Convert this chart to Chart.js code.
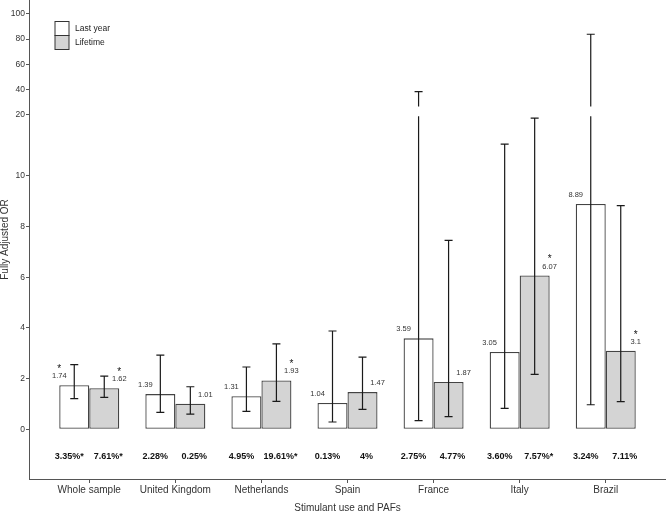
<!DOCTYPE html>
<html>
<head>
<meta charset="utf-8">
<script src="https://cdn.jsdelivr.net/npm/chart.js@4.4.1/dist/chart.umd.min.js"></script>
<style>
  html, body { margin: 0; padding: 0; background: #fff; }
  #wrap { width: 666px; height: 513px; }
</style>
</head>
<body>
<div id="wrap"><canvas id="chart" width="666" height="513"></canvas></div>
<script>
// data
const categories = ["Whole sample", "United Kingdom", "Netherlands", "Spain", "France", "Italy", "Brazil"];
const lastYear = [1.74, 1.39, 1.31, 1.04, 3.59, 3.05, 8.89];
const lifetime = [1.62, 1.01, 1.93, 1.47, 1.87, 6.07, 3.1];
const lastYearLow = [1.21, 0.67, 0.71, 0.29, 0.34, 0.83, 0.97];
const lastYearHigh = [2.55, 2.93, 2.46, 3.88, 38.5, 15.2, 83.9];
const lifetimeLow = [1.26, 0.60, 1.10, 0.79, 0.50, 2.17, 1.09];
const lifetimeHigh = [2.10, 1.68, 3.37, 2.85, 7.46, 19.46, 8.83];
const lastYearStar = [true, false, false, false, false, false, false];
const lifetimeStar = [true, false, true, false, false, true, true];
const lastYearPaf = ["3.35%*", "2.28%", "4.95%", "0.13%", "2.75%", "3.60%", "3.24%"];
const lifetimePaf = ["7.61%*", "0.25%", "19.61%*", "4%", "4.77%", "7.57%*", "7.11%"];
const yTicks = [0, 2, 4, 6, 8, 10, 20, 40, 60, 80, 100];

// broken axis: 0-10 stretched, 10-20 squeezed, 20-100 squeezed more
const knots = [[0, 0], [10, 253.3], [20, 314.3], [100, 415.3]];
const axisGap = [19.8, 26.7];

function interp(v, from, to) {
  let i = 0;
  while (i < knots.length - 2 && v > knots[i + 1][from]) i++;
  const a = knots[i], b = knots[i + 1];
  return a[to] + (v - a[from]) * (b[to] - a[to]) / (b[from] - a[from]);
}
const fwd = (v) => interp(v, 0, 1);
const inv = (u) => interp(u, 1, 0);

class BrokenScale extends Chart.LinearScale {
  buildTicks() {
    return yTicks.map((v) => ({ value: v }));
  }
  getPixelForValue(v) {
    const a = fwd(this.min), b = fwd(this.max);
    return this.getPixelForDecimal((fwd(v) - a) / (b - a));
  }
  getValueForPixel(p) {
    const a = fwd(this.min), b = fwd(this.max);
    return inv(a + this.getDecimalForPixel(p) * (b - a));
  }
}
BrokenScale.id = "broken";
BrokenScale.defaults = Chart.LinearScale.defaults;
Chart.register(BrokenScale);

Chart.defaults.font.family = "'Liberation Sans', Arial, sans-serif";
Chart.defaults.color = "#333";

const lows = [lastYearLow, lifetimeLow];
const highs = [lastYearHigh, lifetimeHigh];
const stars = [lastYearStar, lifetimeStar];
const pafs = [lastYearPaf, lifetimePaf];

// error bars, value labels, stars, PAF row and legend
const overlay = {
  id: "overlay",
  afterDatasetsDraw(chart) {
    const { ctx, scales: { x, y } } = chart;
    ctx.save();
    chart.data.datasets.forEach((ds, di) => {
      const meta = chart.getDatasetMeta(di);
      meta.data.forEach((bar, i) => {
        const lo = y.getPixelForValue(lows[di][i]);
        const hi = y.getPixelForValue(highs[di][i]);
        ctx.strokeStyle = "#1a1a1a";
        ctx.lineWidth = 1.2;
        ctx.beginPath();
        if (highs[di][i] > axisGap[0]) {
          ctx.moveTo(bar.x, lo);
          ctx.lineTo(bar.x, y.getPixelForValue(axisGap[0]));
          ctx.moveTo(bar.x, y.getPixelForValue(axisGap[1]));
          ctx.lineTo(bar.x, hi);
        } else {
          ctx.moveTo(bar.x, lo);
          ctx.lineTo(bar.x, hi);
        }
        ctx.moveTo(bar.x - 4, lo);
        ctx.lineTo(bar.x + 4, lo);
        ctx.moveTo(bar.x - 4, hi);
        ctx.lineTo(bar.x + 4, hi);
        ctx.stroke();

        // value label at the outer corner of the bar
        const lx = di === 0 ? bar.x - bar.width / 2 : bar.x + bar.width / 2;
        const ly = bar.y - 9;
        ctx.fillStyle = "#333";
        ctx.textAlign = "center";
        ctx.textBaseline = "middle";
        ctx.font = "7.5px 'Liberation Sans', Arial, sans-serif";
        ctx.fillText(String(ds.data[i].y), lx, ly);
        if (stars[di][i]) {
          ctx.font = "10px 'Liberation Sans', Arial, sans-serif";
          ctx.fillStyle = "#111";
          ctx.fillText("*", lx, ly - 7);
        }

        // PAF row
        ctx.font = "bold 9px 'Liberation Sans', Arial, sans-serif";
        ctx.fillStyle = "#111";
        const px = x.getPixelForValue(i) + (di === 0 ? -20 : 19);
        ctx.fillText(pafs[di][i], px, y.getPixelForValue(0) + 27);
      });
    });

    // legend
    const left = chart.chartArea.left;
    chart.data.datasets.forEach((ds, di) => {
      const top = 21.5 + di * 14;
      ctx.fillStyle = ds.backgroundColor;
      ctx.fillRect(left + 26, top, 14, 14);
      ctx.strokeStyle = "#333";
      ctx.lineWidth = 1;
      ctx.strokeRect(left + 26, top, 14, 14);
      ctx.fillStyle = "#222";
      ctx.textAlign = "left";
      ctx.textBaseline = "middle";
      ctx.font = "8.5px 'Liberation Sans', Arial, sans-serif";
      ctx.fillText(ds.label, left + 46, top + 7);
    });
    ctx.restore();
  }
};

const toPoints = (arr) => arr.map((v, i) => ({ x: i, y: v }));

new Chart(document.getElementById("chart"), {
  type: "bar",
  data: {
    datasets: [
      {
        label: "Last year",
        data: toPoints(lastYear),
        backgroundColor: "#ffffff",
        borderColor: "#444",
        borderWidth: 1.3,
        borderSkipped: false
      },
      {
        label: "Lifetime",
        data: toPoints(lifetime),
        backgroundColor: "#d4d4d4",
        borderColor: "#444",
        borderWidth: 1.3,
        borderSkipped: false
      }
    ]
  },
  options: {
    responsive: false,
    animation: false,
    layout: { padding: 0 },
    datasets: { bar: { categoryPercentage: 0.697, barPercentage: 1 } },
    plugins: {
      legend: { display: false },
      tooltip: { enabled: false }
    },
    scales: {
      x: {
        type: "linear",
        min: -0.7,
        max: 6.7,
        offset: false,
        afterBuildTicks: (s) => { s.ticks = categories.map((c, i) => ({ value: i })); },
        afterFit: (s) => { s.height = 34; s.paddingLeft = 0; s.paddingRight = 0; },
        grid: { offset: false, drawOnChartArea: false, tickLength: 4, color: "#555" },
        border: { display: true, color: "#555", width: 1 },
        ticks: {
          autoSkip: false,
          maxRotation: 0,
          padding: 1,
          color: "#333",
          font: { size: 10 },
          callback: (v) => categories[v]
        },
        title: {
          display: true,
          text: "Stimulant use and PAFs",
          color: "#333",
          font: { size: 10, lineHeight: 1 },
          padding: { top: 0, bottom: 0 }
        }
      },
      y: {
        type: "broken",
        min: -1.96,
        max: 111,
        afterFit: (s) => { s.width = 29; s.paddingTop = 0; s.paddingBottom = 0; },
        grid: { drawOnChartArea: false, tickLength: 3, color: "#555" },
        border: { display: true, color: "#555", width: 1 },
        ticks: {
          autoSkip: false,
          padding: 1,
          color: "#333",
          font: { size: 8.5 },
          callback: (v) => String(v)
        },
        title: {
          display: true,
          text: "Fully Adjusted OR",
          color: "#333",
          font: { size: 10, lineHeight: 1 },
          padding: { top: 0, bottom: 0 }
        }
      }
    }
  },
  plugins: [overlay]
});
</script>
</body>
</html>
